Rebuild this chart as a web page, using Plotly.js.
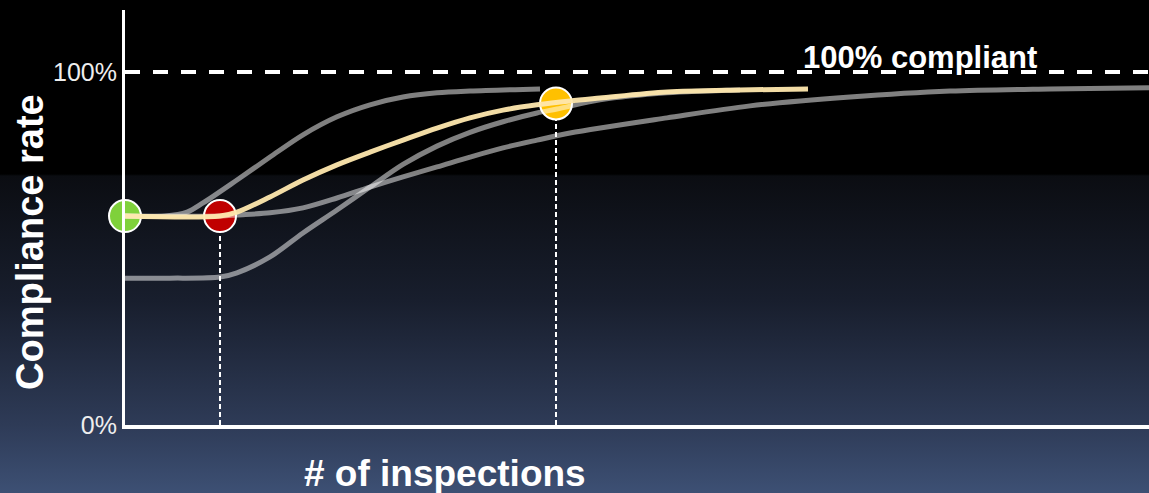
<!DOCTYPE html>
<html>
<head>
<meta charset="utf-8">
<script src="https://cdn.plot.ly/plotly-3.0.1.min.js"></script>
<style>
  html, body { margin: 0; padding: 0; }
  body {
    width: 1149px; height: 493px; overflow: hidden;
    background: linear-gradient(180deg, #000000 0px, #000000 174px, #0b0d12 176px, #181e2d 300px, #2e3b57 425px, #3d5074 493px);
  }
  #chart { width: 1149px; height: 493px; }
</style>
</head>
<body>
<div id="chart"></div>
<script>
// x: number of inspections (arbitrary units), y: compliance rate (%)
const curveA_x = [0, 0.4, 0.62, 0.78, 1.12, 1.45, 1.78, 2.12, 2.45, 2.78, 3.12, 3.45, 4.15];
const curveA_y = [59.2, 59.2, 60.3, 62.9, 69.4, 75.9, 82.2, 87.3, 90.7, 92.9, 94.1, 94.6, 95.2];

const curveC_x = [0, 0.95, 1.12, 1.45, 1.78, 2.12, 2.45, 2.78, 3.12, 3.45, 3.78, 4.12, 4.45, 5.42, 6.25, 7.25, 8.25, 9.25, 10.24];
const curveC_y = [59.2, 59.2, 59.5, 60.1, 61.5, 64.3, 67.4, 70.3, 73.1, 75.9, 78.5, 80.7, 82.7, 87.0, 90.4, 92.9, 94.6, 95.2, 95.5];

const curveD_x = [0, 0.45, 0.95, 1.12, 1.45, 1.78, 2.12, 2.45, 2.78, 3.12, 3.45, 3.78, 4.12, 4.32, 4.75, 5.42, 6.15];
const curveD_y = [41.6, 41.6, 41.9, 43.1, 47.6, 54.4, 60.9, 67.4, 73.8, 79.0, 82.9, 85.9, 88.4, 89.5, 92.1, 94.1, 94.9];

const highlight_x = [0, 0.95, 1.12, 1.45, 1.78, 2.12, 2.45, 2.78, 3.12, 3.45, 3.78, 4.12, 4.45, 4.75, 5.42, 6.15, 6.83];
const highlight_y = [59.2, 59.2, 60.3, 64.6, 69.4, 73.7, 77.3, 80.7, 84.1, 87.0, 89.2, 90.7, 91.8, 92.6, 94.3, 94.9, 95.2];

const marker_x = [0, 0.95, 4.31];
const marker_y = [59.2, 59.2, 91.1];
const marker_colors = ['#7fd13b', '#c00000', '#ffc000'];

const target = 100;
const xMax = 10.24;
const yTicks = [0, 100];
const yTickText = ['0%', '100%'];

const grayLine = {color: 'rgba(255,255,255,0.5)', width: 5, shape: 'spline', smoothing: 0.9};

const traces = [
  {x: marker_x, y: marker_y, type: 'scatter', mode: 'markers', cliponaxis: false, hoverinfo: 'skip',
   marker: {size: 32, color: marker_colors, line: {color: '#ffffff', width: 2}}},
  {x: curveA_x, y: curveA_y, type: 'scatter', mode: 'lines', line: grayLine, hoverinfo: 'skip'},
  {x: curveC_x, y: curveC_y, type: 'scatter', mode: 'lines', line: grayLine, hoverinfo: 'skip'},
  {x: curveD_x, y: curveD_y, type: 'scatter', mode: 'lines', line: grayLine, hoverinfo: 'skip'},
  {x: highlight_x, y: highlight_y, type: 'scatter', mode: 'lines', opacity: 0.95, hoverinfo: 'skip',
   line: {color: '#ffe8ae', width: 5, shape: 'spline', smoothing: 0.9}}
];

const shapes = [
  {type: 'line', xref: 'x', yref: 'y', x0: 0, x1: xMax, y0: target, y1: target, layer: 'below',
   line: {color: '#ffffff', width: 4, dash: '15px,13px'}},
  {type: 'line', xref: 'x', yref: 'y', x0: marker_x[1], x1: marker_x[1], y0: 0, y1: marker_y[1], layer: 'below',
   line: {color: '#ffffff', width: 2, dash: '5px,3px'}},
  {type: 'line', xref: 'x', yref: 'y', x0: marker_x[2], x1: marker_x[2], y0: 0, y1: marker_y[2], layer: 'below',
   line: {color: '#ffffff', width: 2, dash: '5px,3px'}}
];

const titleFont = {color: '#ffffff', family: '"Liberation Sans", Arial, sans-serif'};

const layout = {
  width: 1149, height: 493,
  margin: {l: 125, r: 0, t: 10, b: 68},
  paper_bgcolor: 'rgba(0,0,0,0)',
  plot_bgcolor: 'rgba(0,0,0,0)',
  showlegend: false,
  font: {family: '"Liberation Sans", Arial, sans-serif', color: '#ffffff'},
  xaxis: {
    range: [0, xMax], showgrid: false, zeroline: false, showticklabels: false, ticks: '',
    showline: true, linecolor: '#ffffff', linewidth: 4, fixedrange: true
  },
  yaxis: {
    range: [0, 117.56], showgrid: false, zeroline: false, ticks: '',
    tickvals: yTicks, ticktext: yTickText, tickfont: {size: 25, color: '#eeeeee'},
    showline: true, linecolor: '#ffffff', linewidth: 3, fixedrange: true
  },
  shapes: shapes,
  annotations: [
    {xref: 'x', yref: 'y', x: 7.95, y: target, yshift: -5, text: '<b>100% compliant</b>', showarrow: false,
     xanchor: 'center', yanchor: 'bottom', font: Object.assign({size: 31}, titleFont)},
    {xref: 'paper', yref: 'paper', x: 0.3125, y: -0.118, text: '<b># of inspections</b>', showarrow: false,
     xanchor: 'center', yanchor: 'middle', font: Object.assign({size: 37}, titleFont)},
    {xref: 'paper', yref: 'paper', x: -0.0928, y: 0.441, text: '<b>Compliance rate</b>', showarrow: false,
     textangle: -90, xanchor: 'center', yanchor: 'middle', font: Object.assign({size: 38}, titleFont)}
  ]
};

Plotly.newPlot('chart', traces, layout, {displayModeBar: false, staticPlot: true});
</script>
</body>
</html>
